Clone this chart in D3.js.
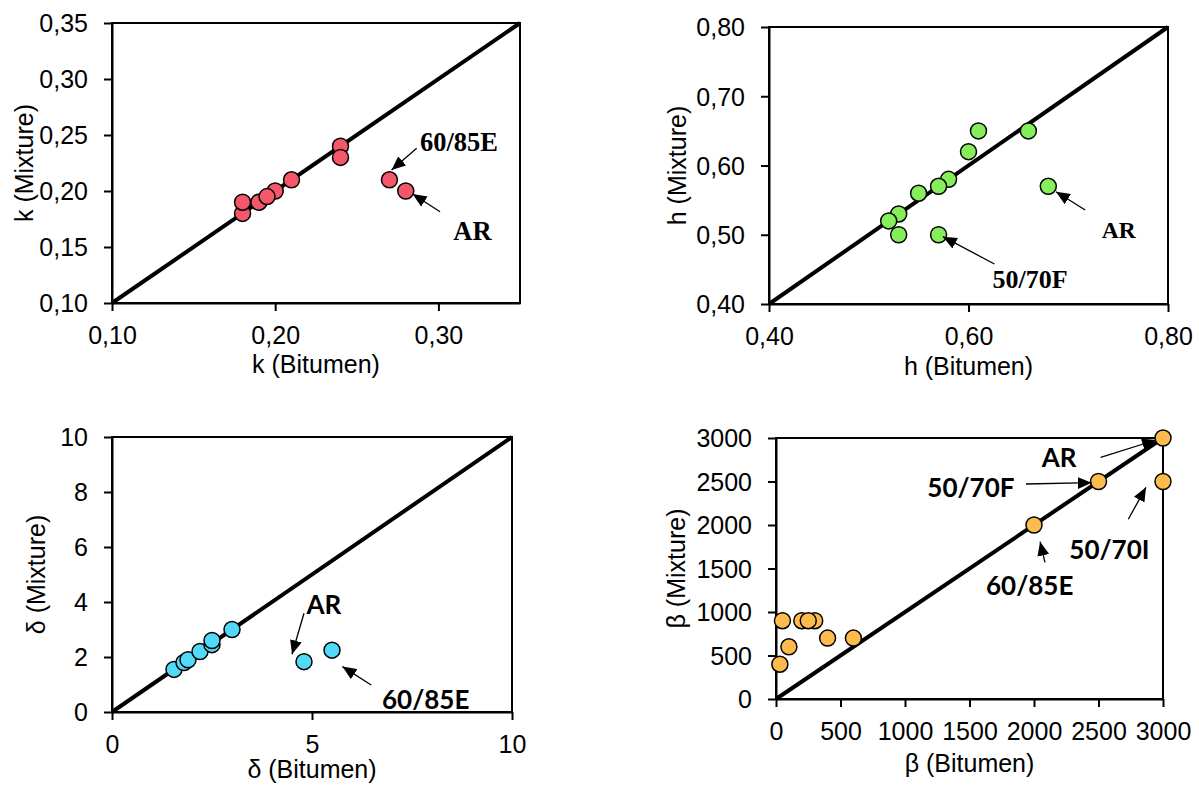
<!DOCTYPE html>
<html><head><meta charset="utf-8">
<script src="https://cdn.jsdelivr.net/npm/d3@7"></script>
<style>body{margin:0;background:#fff} svg{display:block}</style>
</head><body><svg id="c" width="1199" height="791"></svg>
<script>
// ---- data ----
const kBitumen = [0.18, 0.18, 0.20, 0.19, 0.195, 0.21, 0.24, 0.24, 0.27, 0.28];
const kMixture = [0.18, 0.19, 0.20, 0.19, 0.195, 0.21, 0.24, 0.23, 0.21, 0.20];
const hBitumen = [0.53, 0.53, 0.52, 0.55, 0.58, 0.57, 0.57, 0.60, 0.61, 0.66, 0.68];
const hMixture = [0.50, 0.53, 0.52, 0.56, 0.58, 0.57, 0.50, 0.62, 0.65, 0.65, 0.57];
const dBitumen = [1.55, 1.8, 1.9, 2.2, 2.5, 2.5, 3.0, 4.8, 5.5];
const dMixture = [1.55, 1.8, 1.9, 2.2, 2.45, 2.6, 3.0, 1.83, 2.25];
const bBitumen = [30, 50, 100, 200, 300, 250, 400, 600, 2000, 2500, 3000, 3000];
const bMixture = [400, 900, 600, 900, 900, 900, 700, 700, 2000, 2500, 3000, 2500];

const kTicksX = [0.10, 0.20, 0.30];
const kTicksY = [0.10, 0.15, 0.20, 0.25, 0.30, 0.35];
const hTicksX = [0.40, 0.60, 0.80];
const hTicksY = [0.40, 0.50, 0.60, 0.70, 0.80];
const dTicksX = [0, 5, 10];
const dTicksY = [0, 2, 4, 6, 8, 10];
const bTicks = [0, 500, 1000, 1500, 2000, 2500, 3000];

// annotations in data units: text anchor (tx,ty), arrow from (ax,ay) to tip (bx,by)
const kNotes = [
  {text: "60/85E", tx: 0.2887, ty: 0.2353, ax: 0.2867, ay: 0.2381, bx: 0.2713, by: 0.2188},
  {text: "AR", tx: 0.3091, ty: 0.1562, ax: 0.3010, ay: 0.1815, bx: 0.2842, by: 0.1973}
];
const hNotes = [
  {text: "AR", tx: 0.7337, ty: 0.4949, ax: 0.717, ay: 0.5357, bx: 0.6877, by: 0.5622},
  {text: "50/70F", tx: 0.624, ty: 0.4227, ax: 0.626, ay: 0.4578, bx: 0.5743, by: 0.4972}
];
const dNotes = [
  {text: "AR", tx: 4.86, ty: 3.56, ax: 4.8, ay: 3.59, bx: 4.5, by: 2.1},
  {text: "60/85E", tx: 6.75, ty: 0.11, ax: 6.48, ay: 0.98, bx: 5.76, by: 1.65}
];
const bNotes = [
  {text: "AR", tx: 2060, ty: 2667, ax: 2517, ay: 2778, bx: 2946, by: 2977},
  {text: "50/70F", tx: 1173, ty: 2322, ax: 1938, ay: 2471, bx: 2447, by: 2486},
  {text: "50/70I", tx: 2274, ty: 1609, ax: 2731, ay: 2066, bx: 2868, by: 2433},
  {text: "60/85E", tx: 1628, ty: 1190, ax: 2085, ay: 1571, bx: 2047, by: 1808}
];

// ---- layout ----
const comma2 = d => d3.format(".2f")(d).replace(".", ",");
const plain = d => String(d);
const serif = "'Liberation Serif', 'Times New Roman', serif";
const sans = "Lato, 'Open Sans', sans-serif";

const panels = [
  {xs: kBitumen, ys: kMixture, dom: [0.10, 0.35], xt: kTicksX, yt: kTicksY, fmt: comma2,
   box: {l: 112, t: 23, r: 520, b: 303}, color: "#F4566A", xTitle: "k (Bitumen)", yTitle: "k (Mixture)",
   yTitleX: 24, xTitleY: 373, notes: kNotes, nFont: serif, nSize: {"60/85E": 26.5, "AR": 26.5}},
  {xs: hBitumen, ys: hMixture, dom: [0.40, 0.80], xt: hTicksX, yt: hTicksY, fmt: comma2,
   box: {l: 769, t: 27, r: 1168, b: 304}, color: "#85EE5A", xTitle: "h (Bitumen)", yTitle: "h (Mixture)",
   yTitleX: 677, xTitleY: 375, notes: hNotes, nFont: serif, nSize: {"AR": 23.5, "50/70F": 26}},
  {xs: dBitumen, ys: dMixture, dom: [0, 10], xt: dTicksX, yt: dTicksY, fmt: plain,
   box: {l: 112, t: 437, r: 512, b: 712}, color: "#52D9F6", xTitle: "δ (Bitumen)", yTitle: "δ (Mixture)",
   yTitleX: 36, xTitleY: 778, notes: dNotes, nFont: sans, nSize: {}},
  {xs: bBitumen, ys: bMixture, dom: [0, 3000], xt: bTicks, yt: bTicks, fmt: plain,
   box: {l: 776, t: 438, r: 1163, b: 699}, color: "#FDBB4D", xTitle: "β (Bitumen)", yTitle: "β (Mixture)",
   yTitleX: 676, xTitleY: 772, notes: bNotes, nFont: sans, nSize: {}}
];

const svg = d3.select("#c");
const defs = svg.append("defs");
defs.append("marker").attr("id", "ah").attr("markerUnits", "userSpaceOnUse")
  .attr("viewBox", "0 0 14 12").attr("refX", 14).attr("refY", 6)
  .attr("markerWidth", 14).attr("markerHeight", 12).attr("orient", "auto")
  .append("path").attr("d", "M0,0 L14,6 L0,12 Z").attr("fill", "#000");

const tickFont = "'Liberation Sans', Arial, sans-serif";

panels.forEach(p => {
  const x = d3.scaleLinear().domain(p.dom).range([p.box.l, p.box.r]);
  const y = d3.scaleLinear().domain(p.dom).range([p.box.b, p.box.t]);
  const g = svg.append("g");

  // frame
  g.append("rect").attr("x", p.box.l).attr("y", p.box.t)
    .attr("width", p.box.r - p.box.l).attr("height", p.box.b - p.box.t)
    .attr("fill", "none").attr("stroke", "#000").attr("stroke-width", 2);

  const xa = g.append("g").attr("transform", `translate(0,${p.box.b})`)
    .call(d3.axisBottom(x).tickValues(p.xt).tickFormat(p.fmt).tickSize(8).tickSizeOuter(0).tickPadding(15));
  const ya = g.append("g").attr("transform", `translate(${p.box.l},0)`)
    .call(d3.axisLeft(y).tickValues(p.yt).tickFormat(p.fmt).tickSize(8).tickSizeOuter(0).tickPadding(16));
  [xa, ya].forEach(a => {
    a.select(".domain").attr("stroke-width", 2);
    a.selectAll(".tick line").attr("stroke-width", 2);
    a.selectAll("text").attr("font-family", tickFont).attr("font-size", 25).attr("fill", "#000");
  });
  ya.selectAll("text").attr("dy", "0.35em");

  // diagonal 1:1 line
  g.append("line").attr("x1", x(p.dom[0])).attr("y1", y(p.dom[0]))
    .attr("x2", x(p.dom[1])).attr("y2", y(p.dom[1]))
    .attr("stroke", "#000").attr("stroke-width", 4);

  // points
  g.selectAll("circle.pt").data(p.xs.map((v, i) => [v, p.ys[i]])).join("circle")
    .attr("class", "pt").attr("cx", d => x(d[0])).attr("cy", d => y(d[1])).attr("r", 8)
    .attr("fill", p.color).attr("stroke", "#000").attr("stroke-width", 1.5);

  // annotations
  p.notes.forEach(n => {
    g.append("line").attr("x1", x(n.ax)).attr("y1", y(n.ay)).attr("x2", x(n.bx)).attr("y2", y(n.by))
      .attr("stroke", "#000").attr("stroke-width", 1.3).attr("marker-end", "url(#ah)");
    g.append("text").attr("x", x(n.tx)).attr("y", y(n.ty)).text(n.text)
      .attr("font-family", p.nFont).attr("font-weight", "bold")
      .attr("font-size", p.nSize[n.text] || 26).attr("fill", "#000");
  });

  // titles
  g.append("text").attr("x", (p.box.l + p.box.r) / 2).attr("y", p.xTitleY).attr("text-anchor", "middle")
    .attr("font-family", tickFont).attr("font-size", 25).text(p.xTitle);
  g.append("text").attr("transform", `translate(${p.yTitleX},${(p.box.t + p.box.b) / 2}) rotate(-90)`)
    .attr("text-anchor", "middle").attr("dominant-baseline", "central")
    .attr("font-family", tickFont).attr("font-size", 25).text(p.yTitle);
});
</script></body></html>
